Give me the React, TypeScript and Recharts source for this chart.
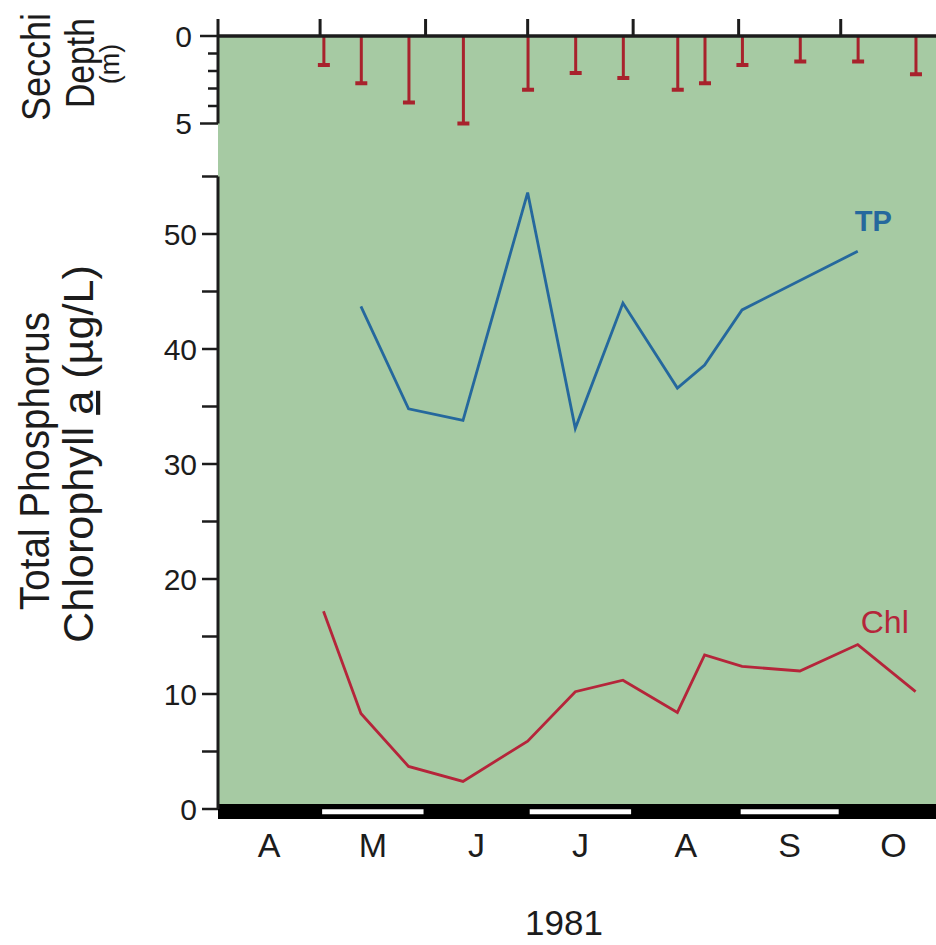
import React from 'react';
import {
  ComposedChart,
  Line,
  Bar,
  XAxis,
  YAxis,
  CartesianGrid,
  ReferenceLine,
  ReferenceArea,
  LabelList,
  Label,
} from 'recharts';

// Sampling dates, as days after 1 April 1981
const sampleDays = [31, 42, 56, 72, 91, 105, 119, 135, 143, 154, 171, 188, 205];
// Secchi depth (m)
const secchiDepth = [1.65, 2.7, 3.8, 5.0, 3.07, 2.12, 2.4, 3.07, 2.7, 1.65, 1.46, 1.46, 2.18];
// Total phosphorus (ug/L)
const totalPhosphorus = [null, 43.7, 34.8, 33.8, 53.6, 33.1, 44.0, 36.6, 38.6, 43.4, null, 48.5, null];
// Chlorophyll a (ug/L)
const chlorophyll = [17.2, 8.3, 3.7, 2.4, 5.9, 10.2, 11.2, 8.4, 13.4, 12.4, 12.0, 14.3, 10.2];

// Month boundaries (days after 1 April) and labels
const monthStarts = [0, 30, 61, 91, 122, 153, 183];
const monthEnds = [30, 61, 91, 122, 153, 183, 214];
const monthLabels = ['A', 'M', 'J', 'J', 'A', 'S', 'O'];
const yearLabel = '1981';

const mainTicks = [0, 5, 10, 15, 20, 25, 30, 35, 40, 45, 50, 55];
const secchiTicks = [0, 1, 2, 3, 4, 5];

const data = sampleDays.map((day, i) => ({
  day,
  secchi: secchiDepth[i],
  tp: totalPhosphorus[i],
  chl: chlorophyll[i],
}));
const monthMids = monthStarts.map((s, i) => (s + monthEnds[i]) / 2);

const FONT = "'Liberation Sans', Arial, Helvetica, sans-serif";
const GREEN = '#a6caa3';
const BLUE = '#25689d';
const RED = '#b5253a';
const SRED = '#a8222c';
const INK = '#1c1c1c';

const X_DOMAIN: [number, number] = [0, 211];
const MAIN_DOMAIN: [number, number] = [-0.2174, 67.2174];
const SECCHI_DOMAIN: [number, number] = [0, 44.314];
// month bar under the plot, in main-axis units
const BAR_TOP = 0.43;
const BAR_BOTTOM = -0.87;
const BAR_MID = -0.25;

const SecchiTick = (props: any) => {
  const { x, y, payload } = props;
  const v = payload.value;
  const major = v === 0 || v === 5;
  const len = major ? 18 : 10;
  const x0 = x + 1;
  return (
    <g>
      <line x1={x0 - len} x2={x0} y1={y} y2={y} stroke={INK} strokeWidth={2.5} />
      {major && (
        <text x={x0 - 26} y={y} dy="0.36em" textAnchor="end" fontFamily={FONT} fontSize={30} fill={INK}>
          {v}
        </text>
      )}
    </g>
  );
};

const SecchiMark = (props: any) => {
  const { x, y, width, height } = props;
  if (x == null || y == null) return null;
  const cx = x + width / 2;
  const top = Math.min(y, y + height);
  const bottom = Math.max(y, y + height);
  return (
    <g>
      <line x1={cx} x2={cx} y1={top} y2={bottom} stroke={SRED} strokeWidth={3} />
      <line x1={cx - 6} x2={cx + 6} y1={bottom} y2={bottom} stroke={SRED} strokeWidth={4} />
    </g>
  );
};

const MainTitle = () => (
  <g fontFamily={FONT} fontSize={42} fill={INK}>
    <text
      transform="translate(49,461) rotate(-90)"
      textAnchor="middle"
      textLength={298}
      lengthAdjust="spacingAndGlyphs"
    >
      Total Phosphorus
    </text>
    <text
      transform="translate(93,454) rotate(-90)"
      textAnchor="middle"
      textLength={378}
      lengthAdjust="spacingAndGlyphs"
    >
      Chlorophyll <tspan style={{ textDecoration: 'underline' }}>a</tspan> (µg/L)
    </text>
  </g>
);

const SecchiTitle = () => (
  <g fontFamily={FONT} fill={INK}>
    <text
      transform="translate(50,67) rotate(-90)"
      textAnchor="middle"
      fontSize={40}
      textLength={108}
      lengthAdjust="spacingAndGlyphs"
    >
      Secchi
    </text>
    <text
      transform="translate(94,63) rotate(-90)"
      textAnchor="middle"
      fontSize={40}
      textLength={90}
      lengthAdjust="spacingAndGlyphs"
    >
      Depth
    </text>
    <text transform="translate(119,64) rotate(-90)" textAnchor="middle" fontSize={27}>
      (m)
    </text>
  </g>
);

const YearTitle = () => (
  <text x={564} y={935} textAnchor="middle" fontFamily={FONT} fontSize={35} fill={INK}>
    {yearLabel}
  </text>
);

const TPLabel = (props: any) => {
  const { x, y, index } = props;
  if (index !== 11) return null;
  return (
    <text x={x - 3} y={y - 20} fontFamily={FONT} fontSize={29} fontWeight="bold" fill={BLUE}>
      TP
    </text>
  );
};

const ChlLabel = (props: any) => {
  const { x, y, index } = props;
  if (index !== 11) return null;
  return (
    <text x={x + 3} y={y - 12} fontFamily={FONT} fontSize={32} fill={RED}>
      Chl
    </text>
  );
};

export default function App() {
  return (
    <div style={{ position: 'absolute', left: 0, top: 0, width: 936, height: 945, overflow: 'hidden', background: '#fff' }}>
      <ComposedChart
        width={936}
        height={945}
        data={data}
        margin={{ top: 16, right: 0, bottom: 73.5, left: 216 }}
      >
        <CartesianGrid xAxisId="b" yAxisId="main" horizontal={false} vertical={false} fill={GREEN} stroke="none" />
        <XAxis
          xAxisId="t"
          orientation="top"
          type="number"
          dataKey="day"
          domain={X_DOMAIN}
          allowDataOverflow
          ticks={monthStarts}
          tickFormatter={() => ''}
          height={20}
          tickSize={17}
          axisLine={{ stroke: INK, strokeWidth: 3.5 }}
          tickLine={{ stroke: INK, strokeWidth: 3 }}
        />
        <XAxis
          xAxisId="b"
          orientation="bottom"
          type="number"
          dataKey="day"
          domain={X_DOMAIN}
          allowDataOverflow
          ticks={monthMids}
          interval={0}
          tickFormatter={(v: number) => monthLabels[monthMids.indexOf(v)] ?? ''}
          height={60}
          tickSize={0}
          tickMargin={21}
          axisLine={false}
          tickLine={false}
          tick={{ fontFamily: FONT, fontSize: 34, fill: INK }}
          label={<Label content={YearTitle} />}
        />
        <YAxis
          yAxisId="main"
          type="number"
          domain={MAIN_DOMAIN}
          allowDataOverflow
          ticks={mainTicks}
          interval={0}
          width={1}
          axisLine={false}
          tickSize={16}
          tickMargin={5}
          tickLine={{ stroke: INK, strokeWidth: 2.5 }}
          tickFormatter={(v: number) => (v % 10 === 0 ? String(v) : '')}
          tick={{ fontFamily: FONT, fontSize: 30, fill: INK }}
          label={<Label content={MainTitle} />}
        />
        <YAxis
          yAxisId="secchi"
          type="number"
          reversed
          domain={SECCHI_DOMAIN}
          allowDataOverflow
          ticks={secchiTicks}
          interval={0}
          width={1}
          axisLine={false}
          tickLine={false}
          tickSize={0}
          tickMargin={0}
          tick={<SecchiTick />}
          label={<Label content={SecchiTitle} />}
        />
        <ReferenceArea
          xAxisId="b"
          yAxisId="main"
          x1={X_DOMAIN[0]}
          x2={X_DOMAIN[1]}
          y1={BAR_BOTTOM}
          y2={BAR_TOP}
          fill="#000"
          fillOpacity={1}
          stroke="none"
          ifOverflow="visible"
        />
        {monthStarts.map((s, i) =>
          i % 2 === 1 ? (
            <ReferenceLine
              key={`w${i}`}
              xAxisId="b"
              yAxisId="main"
              segment={[{ x: s + 0.6, y: BAR_MID }, { x: monthEnds[i] - 0.6, y: BAR_MID }]}
              stroke="#fff"
              strokeWidth={5}
              ifOverflow="visible"
            />
          ) : null
        )}
        <ReferenceLine
          xAxisId="b"
          yAxisId="main"
          segment={[{ x: 0, y: 0 }, { x: 0, y: 55 }]}
          stroke={INK}
          strokeWidth={3}
          ifOverflow="visible"
        />
        <ReferenceLine
          xAxisId="b"
          yAxisId="secchi"
          segment={[{ x: 0, y: 0 }, { x: 0, y: 5 }]}
          stroke={INK}
          strokeWidth={3}
          ifOverflow="visible"
        />
        <Bar
          xAxisId="b"
          yAxisId="secchi"
          dataKey="secchi"
          barSize={14}
          shape={<SecchiMark />}
          isAnimationActive={false}
        />
        <Line
          xAxisId="b"
          yAxisId="main"
          type="linear"
          dataKey="tp"
          stroke={BLUE}
          strokeWidth={2.8}
          dot={false}
          connectNulls
          isAnimationActive={false}
        >
          <LabelList dataKey="tp" content={<TPLabel />} />
        </Line>
        <Line
          xAxisId="b"
          yAxisId="main"
          type="linear"
          dataKey="chl"
          stroke={RED}
          strokeWidth={2.8}
          dot={false}
          connectNulls
          isAnimationActive={false}
        >
          <LabelList dataKey="chl" content={<ChlLabel />} />
        </Line>
      </ComposedChart>
    </div>
  );
}
